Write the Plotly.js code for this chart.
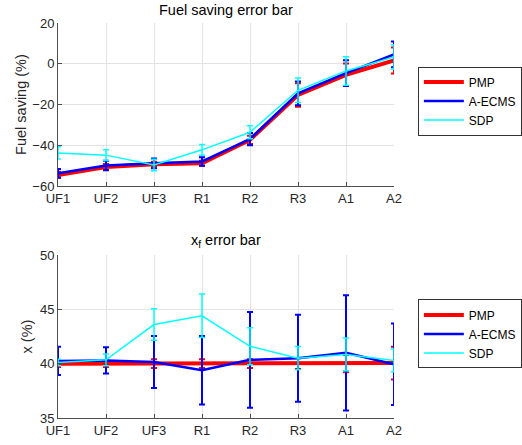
<!DOCTYPE html>
<html><head><meta charset="utf-8">
<script src="https://cdn.plot.ly/plotly-3.0.1.min.js"></script>
<style>html,body{margin:0;padding:0;background:#fff}#c{width:522px;height:445px}</style>
</head><body><div id="c"></div>
<script>
const cats = ['UF1','UF2','UF3','R1','R2','R3','A1','A2'];
const seriesNames = ['PMP','A-ECMS','SDP'];
const fuelPMP = [-54.5,-50.6,-49.3,-48.8,-37.3,-15.3,-5.4,1.6];
const fuelPMPErr = [1.5,1.5,1.2,1.2,2.0,5.8,5.5,6.4];
const fuelECMS = [-53.7,-49.9,-48.8,-47.9,-36.9,-14.5,-4.6,4.6];
const fuelECMSErr = [2.1,2.3,2.4,2.1,3.0,5.8,6.3,6.3];
const fuelSDP = [-43.7,-44.8,-49.6,-42.2,-33.6,-13.0,-3.5,3.3];
const fuelSDPErr = [3.0,2.6,2.8,2.6,3.2,6.0,7.0,6.0];
const xPMP = [40,40,40,40,40,40,40,40.05];
const xPMPErr = [0.3,0.3,0.4,0.4,0.4,0.5,0.8,1.5];
const xECMS = [40.25,40.3,40.15,39.4,40.35,40.5,41.0,39.95];
const xECMSErr = [1.3,1.2,2.4,3.15,4.4,4.0,5.3,3.75];
const xSDP = [40.1,40.35,43.6,44.4,41.6,40.5,40.85,40.3];
const xSDPErr = [0.3,0.55,1.45,2.0,1.7,1.07,1.5,1.05];

const colors = ['#ff0000','#0000ff','#00ffff'];
const widths = [4,2.5,1.5];
const ebT = [2,2,1.5];
const FONT = 'Liberation Sans, Arial, sans-serif';

function tr(name, i, y, err, xa, ya, leg){
  return {x:cats, y:y, name:name, type:'scatter', mode:'lines',
    xaxis:xa, yaxis:ya, legend:leg,
    line:{color:colors[i], width:widths[i]},
    error_y:{type:'data', array:err, visible:true, color:colors[i], thickness:ebT[i], width:3}};
}
const data = [
  tr(seriesNames[0],0,fuelPMP,fuelPMPErr,'x','y','legend'),
  tr(seriesNames[1],1,fuelECMS,fuelECMSErr,'x','y','legend'),
  tr(seriesNames[2],2,fuelSDP,fuelSDPErr,'x','y','legend'),
  tr(seriesNames[0],0,xPMP,xPMPErr,'x2','y2','legend2'),
  tr(seriesNames[1],1,xECMS,xECMSErr,'x2','y2','legend2'),
  tr(seriesNames[2],2,xSDP,xSDPErr,'x2','y2','legend2')
];
const axisCommon = {showline:true, linecolor:'#4d4d4d', linewidth:1, gridcolor:'#e3e3e3', gridwidth:1,
  ticks:'inside', ticklen:4, tickcolor:'#4d4d4d', zeroline:false,
  tickfont:{family:FONT, size:13, color:'#262626'}};
const xa = Object.assign({}, axisCommon, {type:'category', range:[0,7], showgrid:true, fixedrange:true});
const leg = {x:1.071, xanchor:'left', yanchor:'middle', bgcolor:'#fff', bordercolor:'#333', borderwidth:1,
  font:{family:FONT, size:12, color:'#000'}, itemwidth:40, tracegroupgap:0};
const layout = {
  width:522, height:445, margin:{l:58, r:128, t:23, b:27, autoexpand:false},
  paper_bgcolor:'#fff', plot_bgcolor:'#fff', showlegend:true,
  font:{family:FONT},
  xaxis:Object.assign({}, xa, {anchor:'y'}),
  xaxis2:Object.assign({}, xa, {anchor:'y2'}),
  yaxis:Object.assign({}, axisCommon, {domain:[0.587,1], range:[-60,20], tickvals:[-60,-40,-20,0,20], anchor:'x',
    title:{text:'Fuel saving (%)', standoff:2, font:{family:FONT, size:14.5, color:'#262626'}}}),
  yaxis2:Object.assign({}, axisCommon, {domain:[0,0.4127], range:[35,50], tickvals:[35,40,45,50], anchor:'x2',
    title:{text:'x (%)', standoff:3, font:{family:FONT, size:14.5, color:'#262626'}}}),
  legend:Object.assign({}, leg, {y:0.8025}),
  legend2:Object.assign({}, leg, {y:0.2127}),
  annotations:[
    {text:'Fuel saving error bar', xref:'paper', yref:'paper', x:0.5, y:1.0, yshift:3, xanchor:'center', yanchor:'bottom', showarrow:false,
     font:{family:FONT, size:14.5, color:'#000'}},
    {text:'x<sub>f</sub> error bar', xref:'paper', yref:'paper', x:0.5, y:0.4127, yshift:3, xanchor:'center', yanchor:'bottom', showarrow:false,
     font:{family:FONT, size:14.5, color:'#000'}}
  ]
};
Plotly.newPlot('c', data, layout, {displayModeBar:false, staticPlot:true});
</script></body></html>
